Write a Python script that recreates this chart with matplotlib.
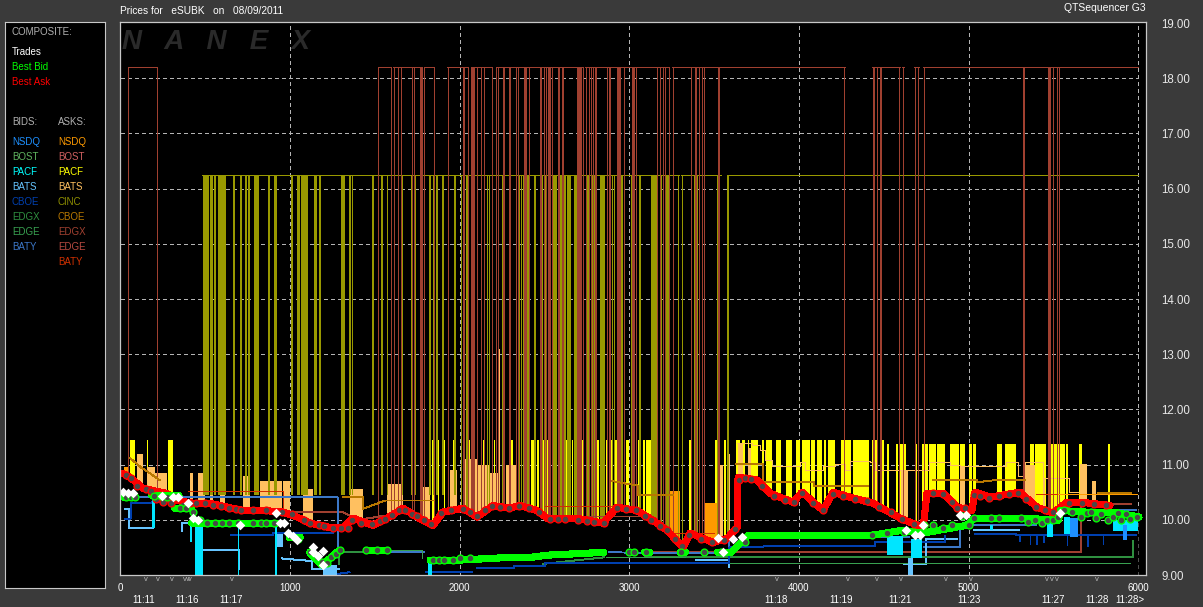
#!/usr/bin/env python3
# plot.py - quote sequence chart for eSUBK
import matplotlib
matplotlib.use('Agg')
import matplotlib.pyplot as plt
import numpy as np

plt.rcParams['font.family'] = ['Liberation Sans', 'DejaVu Sans']

# ---- data ----
ask_x = [15, 56, 133, 192, 274, 333, 427, 528, 628, 722, 840, 958, 1041, 1117, 1235, 1312, 1371, 1489, 1571, 1666,
         1748, 1842, 1901, 2019, 2102, 2196, 2296, 2355, 2456, 2514, 2691, 2845, 2927, 3045, 3140, 3222, 3316, 3358,
         3493, 3576, 3635, 3641, 3753, 3830, 3965, 4018, 4142, 4201, 4301, 4437, 4596, 4732, 4755, 4850, 4932, 5020,
         5038, 5127, 5303, 5403, 5498, 5580, 5657, 5834]
ask_y = [10.84, 10.77, 10.57, 10.53, 10.48, 10.35, 10.30, 10.30, 10.23, 10.17, 10.17, 10.14, 10.05, 9.94, 9.86, 9.86,
         10.03, 9.90, 10.03, 10.21, 10.05, 9.90, 10.14, 10.21, 10.05, 10.26, 10.21, 10.26, 10.17, 10.03, 10.03, 9.94,
         10.23, 10.17, 9.99, 9.81, 9.50, 9.76, 9.59, 9.66, 9.86, 10.77, 10.72, 10.48, 10.32, 10.50, 10.17, 10.50,
         10.41, 10.30, 10.03, 9.86, 10.48, 10.48, 10.23, 10.17, 10.50, 10.41, 10.50, 10.23, 10.12, 10.32, 10.32, 10.26]

bid_x = [15, 90, np.nan, 185, 345, np.nan, 320, 420, np.nan, 420, 920, np.nan, 995, 1060, np.nan, 1115, 1190, 1290,
         np.nan, 1450, 1570, np.nan, 1825, 2000, 2300, 2420, 2520, 2850, np.nan, 3000, 3030, np.nan, 3090, 3120, np.nan,
         3300, 3330, np.nan, 3520, 3600, 3700, 4430, 4610, 4730, 4990, 5035, 5330, 5530, 5540, 5690, 5850, 6005]
bid_y = [10.41, 10.41, np.nan, 10.44, 10.44, np.nan, 10.21, 10.21, np.nan, 9.94, 9.94, np.nan, 9.68, 9.68, np.nan,
         9.41, 9.18, 9.45, np.nan, 9.45, 9.45, np.nan, 9.27, 9.27, 9.32, 9.32, 9.36, 9.41, np.nan, 9.41, 9.41, np.nan,
         9.41, 9.41, np.nan, 9.41, 9.41, np.nan, 9.41, 9.41, 9.72, 9.72, 9.81, 9.76, 9.90, 10.03, 10.03, 9.99, 10.17,
         10.14, 10.14, 10.05]

ask_dot_x = [30, 60, 100, 150, 180, 210, 250, 300, 370, 410, 445, 500, 545, 590, 640, 680, 710, 780, 860, 950, 1010,
             1080, 1120, 1170, 1200, 1250, 1300, 1340, 1365, 1420, 1480, 1530, 1560, 1600, 1640, 1680, 1720, 1750, 1790,
             1830, 1890, 1950, 2020, 2060, 2100, 2150, 2190, 2240, 2290, 2350, 2410, 2470, 2530, 2580, 2620, 2700, 2750,
             2790, 2850, 2925, 2980, 3040, 3090, 3130, 3180, 3220, 3270, 3310, 3350, 3420, 3490, 3560, 3620, 3645, 3680,
             3720, 3780, 3850, 3920, 3970, 4020, 4080, 4140, 4200, 4260, 4330, 4400, 4470, 4540, 4610, 4680, 4740, 4790,
             4850, 4900, 4930, 4980, 5030, 5070, 5120, 5180, 5240, 5290, 5340, 5400, 5450, 5500, 5590, 5670, 5740, 5810]
ask_dot_y = [10.82, 10.76, 10.62, 10.55, 10.53, 10.38, 10.33, 10.31, 10.26, 10.30, 10.30, 10.30, 10.27, 10.25, 10.22,
             10.20, 10.18, 10.17, 10.17, 10.15, 10.10, 9.99, 9.94, 9.90, 9.88, 9.86, 9.86, 9.86, 10.00, 9.94, 9.92, 9.98,
             10.02, 10.08, 10.18, 10.18, 10.10, 10.06, 10.00, 9.92, 10.12, 10.18, 10.20, 10.14, 10.07, 10.18, 10.25,
             10.23, 10.21, 10.25, 10.22, 10.14, 10.02, 10.02, 10.02, 10.00, 9.98, 9.96, 9.94, 10.22, 10.20, 10.17, 10.07,
             9.99, 9.89, 9.81, 9.65, 9.52, 9.72, 9.65, 9.60, 9.64, 9.84, 10.72, 10.76, 10.74, 10.62, 10.44, 10.36, 10.32,
             10.48, 10.30, 10.18, 10.47, 10.44, 10.38, 10.34, 10.24, 10.14, 10.02, 9.92, 9.90, 10.48, 10.47, 10.32, 10.22,
             10.22, 10.45, 10.44, 10.40, 10.44, 10.47, 10.49, 10.38, 10.24, 10.18, 10.14, 10.30, 10.30, 10.28, 10.26]

bid_dot_x = [35, 60, 85, 195, 240, 275, 320, 350, 385, 430, 470, 510, 560, 600, 640, 690, 780, 830, 860, 905, 1000, 1045,
             1120, 1160, 1190, 1215, 1240, 1270, 1295, 1450, 1510, 1570, 1840, 1880, 1910, 1960, 2000, 2060, 3000, 3030,
             3100, 3305, 3440, 3540, 3680, 4430, 4520, 4620, 4735, 4790, 4850, 4900, 4960, 5000, 5030, 5130, 5180, 5310,
             5350, 5390, 5430, 5460, 5500, 5530, 5560, 5610, 5660, 5700, 5720, 5750, 5780, 5820, 5850, 5880, 5900, 5930,
             5950, 5990]
bid_dot_y = [10.41, 10.41, 10.41, 10.44, 10.44, 10.42, 10.44, 10.21, 10.21, 10.15, 9.99, 9.94, 9.94, 9.94, 9.94, 9.94,
             9.94, 9.94, 9.94, 9.94, 9.70, 9.65, 9.42, 9.32, 9.24, 9.22, 9.32, 9.38, 9.45, 9.45, 9.45, 9.45, 9.27, 9.27,
             9.27, 9.27, 9.30, 9.30, 9.41, 9.41, 9.41, 9.41, 9.41, 9.41, 9.60, 9.72, 9.76, 9.78, 9.90, 9.90, 9.86, 9.90,
             10.06, 9.90, 10.03, 10.03, 10.03, 10.03, 9.96, 9.99, 9.95, 9.99, 9.99, 10.05, 10.17, 10.14, 10.05, 10.12,
             10.14, 10.03, 10.10, 10.00, 10.05, 10.12, 10.00, 10.10, 10.02, 10.05]

trade_x = [15, 44, 74, 245, 310, 339, 398, 427, 457, 705, 917, 940, 964, 988, 1017, 1041, 1135, 1135, 1165, 1194, 1194,
           3523, 3552, 3611, 3664, 4631, 4684, 4714, 4732, 4950, 4985, 5539]
trade_y = [10.50, 10.48, 10.48, 10.44, 10.41, 10.41, 10.30, 10.03, 9.99, 9.91, 10.12, 9.94, 9.94, 9.76, 9.71, 9.63,
           9.50, 9.41, 9.35, 9.44, 9.18, 9.67, 9.42, 9.65, 9.69, 9.81, 9.72, 9.72, 9.90, 10.08, 10.08, 10.12]

# CINC ask spikes up to 16.25, early ones stop above the ask
cinc_early_start = [486, 528, 551, 575, 663, 705, 734, 752, 787, 870, 905, 1005, 1041, 1064, 1141, 1170, 1300, 1347,
                    1365, 1483, 1536, 1571, 1654, 1713, 1736, 1818, 1842, 1860, 1896, 1966]
cinc_early_end = [522, 545, 563, 622, 675, 716, 746, 764, 817, 881, 923, 1017, 1058, 1105, 1159, 1182, 1324, 1359,
                  1371, 1495, 1548, 1577, 1666, 1718, 1742, 1830, 1848, 1872, 1907, 1978]
cinc_start = [2007, 2037, 2066, 2160, 2172, 2249, 2349, 2361, 2373, 2438, 2485, 2503, 2550, 2591, 2615, 2632, 2674,
              2745, 2774, 2791, 2827, 2868, 2898, 2910, 2951, 3010, 3057, 3128, 3181, 3210, 3287, 3310, 3381, 3517, 3576]
cinc_end = [2013, 2049, 2072, 2166, 2178, 2255, 2355, 2367, 2408, 2449, 2491, 2508, 2573, 2603, 2626, 2656, 2691,
            2762, 2786, 2803, 2857, 2874, 2904, 2915, 2963, 3028, 3069, 3163, 3193, 3234, 3293, 3316, 3405, 3534, 3588]
cinc_line_start = [483, 3305, 3576]
cinc_line_end = [3293, 3540, 6000]

# EDGX ask spikes up to 18.20
edgx_thin = [44, 215, 1518, 1595, 1613, 1636, 1654, 1719, 1730, 1789, 1848, 1931, 2049, 2102, 2125, 2143, 2190, 2214,
             2332, 2344, 2408, 2497, 2509, 2544, 2727, 2745, 2762, 2774, 2786, 2868, 2969, 3039, 3163, 3181, 3198, 3234,
             3257, 3410, 3428, 3440, 4265, 4460, 4590, 4613, 4684, 4702, 4737, 5321, 5327, 5498, 5521, 5533]
edgx_wide_start = [1766, 2019, 2067, 2226, 2255, 2291, 2379, 2473, 2521, 2580, 2603, 2691, 2797, 2880, 2927, 3016, 3210,
                   3363, 3387, 3523, 4436, 4478, 5468]
edgx_wide_end = [1784, 2031, 2090, 2232, 2267, 2302, 2397, 2485, 2538, 2591, 2615, 2721, 2809, 2892, 2951, 3033, 3216,
                 3369, 3399, 3534, 4448, 4489, 5486]
edgx_top_start = [44, 1518, 1607, 1789, 1925, 2067, 2214, 2739, 3252, 3405, 4431, 4608, 4678, 4732]
edgx_top_end = [215, 1595, 1778, 1848, 2049, 2190, 2727, 3234, 3399, 4271, 4596, 4620, 4708, 6000]

# PACF ask spikes
pacf_start = [56, 156, 280, 1837, 1872, 1907, 1960, 2055, 2137, 2202, 2249, 2302, 2361, 2391, 2420, 2456, 2485, 2509,
              2532, 2556, 2591, 2626, 2662, 2715, 2791, 2862, 2886, 2910, 2980, 3010, 3051, 3081, 3098, 3181, 3210,
              3352, 3505, 3558, 3629, 3664, 3700, 3718, 3782, 3806, 3865, 3924, 3983, 4018, 4071, 4106, 4148, 4172,
              4248, 4319, 4431, 4490]
pacf_end = [86, 163, 310, 1848, 1878, 1913, 1972, 2061, 2143, 2208, 2255, 2314, 2367, 2403, 2444, 2467, 2497, 2521,
            2538, 2562, 2597, 2656, 2668, 2733, 2821, 2868, 2898, 2927, 2998, 3022, 3057, 3092, 3128, 3187, 3234,
            3363, 3517, 3570, 3653, 3682, 3706, 3759, 3794, 3842, 3895, 3959, 4007, 4065, 4095, 4136, 4160, 4213,
            4307, 4413, 4460, 4501]
pacf_low_start = [4519, 4572, 4596, 4684, 4726, 4767, 4814, 4890, 4949, 5002, 5026, 5168, 5215, 5362, 5392, 5468, 5575,
                  5652, 5822]
pacf_low_end = [4531, 4584, 4631, 4696, 4761, 4808, 4861, 4943, 4979, 5020, 5044, 5197, 5280, 5386, 5457, 5569, 5587,
                5669, 5834]

# BATS ask blocks
bats_start = [98, 156, 203, 410, 457, 528, 587, 722, 822, 958, 1076, 1353, 1571, 1766, 1943, 2019, 2100, 2180, 2226,
              2270, 3523, 3576, 3640, 3700, 4600, 4950, 5321, 5440, 5657, 5730]
bats_end = [133, 203, 274, 428, 498, 545, 616, 763, 952, 999, 1135, 1430, 1666, 1825, 1984, 2100, 2180, 2226, 2238,
            2340, 3552, 3594, 3670, 3720, 4640, 4980, 5392, 5450, 5698, 5750]
bats_top = [11.20, 10.95, 10.85, 10.85, 10.85, 10.85, 10.80, 10.80, 10.70, 10.70, 10.55, 10.55, 10.65, 10.60, 10.90,
            11.10, 11.00, 10.85, 13.10, 11.00, 11.00, 11.20, 11.40, 11.30, 10.90, 10.95, 11.00, 10.75, 11.02, 10.70]
bats_line_x = [3635, 3682, 3724, 3771, 3800, 3841, 3947, 4007, 4036, 4095, 4142, 4213, 4272, 4301, 4419, 4448, 4767,
               4890, 4950, 5220, 5290, 5290, 5330, 5380, 5440, 5590, 5660]
bats_line_y = [11.40, 11.40, 11.36, 11.27, 11.09, 10.98, 10.97, 11.04, 10.91, 10.91, 10.97, 11.02, 10.91, 11.06, 11.04,
               10.91, 11.04, 11.00, 10.98, 11.04, 11.04, 10.80, 11.04, 11.04, 10.75, 10.50, 10.40]

# NSDQ ask blocks
nsdq_a_start = [20, 3240, 3446]
nsdq_a_end = [50, 3300, 3517]
nsdq_a_top = [10.95, 10.53, 10.30]

# step lines
cboe_a_x = [56, 120, 170, 230, np.nan, 1310, 1430, 1430, 1560, 1560, 1850, np.nan, 2900, 3050, 3050, 3260, np.nan,
            3630, 3790, 3790, 3930, 3970, 4090, 4090, 4410, np.nan, 4790, 4900, 4900, 5050, 5050, 5160, 5330, np.nan,
            5760, 5960]
cboe_a_y = [11.12, 10.95, 10.85, 10.72, np.nan, 10.41, 10.41, 10.20, 10.35, 10.35, 10.35, np.nan, 10.70, 10.62, 10.45,
            10.45, np.nan, 11.02, 11.02, 10.68, 10.68, 10.68, 10.68, 10.61, 10.61, np.nan, 10.72, 10.72, 10.72, 10.72,
            10.68, 10.72, 10.72, np.nan, 10.48, 10.48]
baty_a_x = [400, 960, 960, np.nan, 2500, 2950, np.nan, 3220, 3500, np.nan, 5400, 5760, 5760, 5990]
baty_a_y = [10.52, 10.52, 10.14, np.nan, 10.25, 10.25, np.nan, 9.77, 9.77, np.nan, 10.47, 10.47, 10.47, 10.47]
edgx_a_x = [1000, 1310, 1310, 1400, 1400, 1700, np.nan, 2500, 3090, np.nan, 3090, 5660, 5660, 5960]
edgx_a_y = [10.14, 10.14, 10.14, 10.00, 10.00, 10.14, np.nan, 10.06, 10.06, np.nan, 9.41, 9.41, 10.28, 10.28]
nsdq_a_line_x = [5530, 5990]
nsdq_a_line_y = [10.47, 10.47]
baty_b_x = [15, 1280, 1280, 1290, 1790, np.nan, 2880, 3590, 3590, np.nan, 4470, 4650, np.nan, 4740, 4950, 4950, 5020,
            5400, np.nan, 5570, 5990]
baty_b_y = [10.41, 10.41, 9.41, 9.41, 9.41, np.nan, 9.41, 9.39, 9.75, np.nan, 9.68, 9.68, np.nan, 9.50, 9.50, 9.90,
            9.90, 9.90, np.nan, 10.17, 10.17]
cboe_b_x = [25, 60, 60, 330, np.nan, 650, 900, 900, 1250, np.nan, 1280, 1350, np.nan, 1800, 2040, 2040, 2070, np.nan,
            2100, 2320, 2320, 2500, 2500, 3590, 3590, 3790, 3790, 4450, 4450, 4860, 4860, np.nan, 5040, 5280, 5280, 5990]
cboe_b_y = [10.02, 10.02, 10.30, 10.33, np.nan, 9.72, 9.72, 9.76, 9.76, np.nan, 9.02, 9.05, np.nan, 9.05, 9.05, 9.05,
            9.05, np.nan, 9.12, 9.12, 9.16, 9.16, 9.21, 9.21, 9.50, 9.50, 9.52, 9.52, 9.60, 9.60, 9.70, np.nan, 9.74,
            9.74, 9.72, 9.72]
bats_b_x = [25, 50, 50, 190, np.nan, 360, 360, 480, np.nan, 480, 700, 700, np.nan, 950, 1100, 1130, 1130, 1290, np.nan,
            3390, 3590, 3590, np.nan, 4620, 4750, 4750, 4930, np.nan, 5030, 5300]
bats_b_y = [10.20, 10.20, 9.85, 9.85, np.nan, 9.80, 9.95, 9.95, np.nan, 9.45, 9.45, 9.10, np.nan, 9.30, 9.26, 9.26,
            9.10, 9.10, np.nan, 9.28, 9.28, 9.15, np.nan, 9.20, 9.20, 9.65, 9.65, np.nan, 9.82, 9.82]
edgx_b_x = [1290, 1290, 1500, np.nan, 2490, 2850, np.nan, 3090, 5970, 5970]
edgx_b_y = [9.20, 9.42, 9.42, np.nan, 9.20, 9.32, np.nan, 9.32, 9.32, 9.61]
edge_b_x = [1450, 1780, 1780, np.nan, 2860, 3330, np.nan, 3440, 5950]
edge_b_y = [9.45, 9.45, 9.30, np.nan, 9.32, 9.32, np.nan, 9.21, 9.21]

# bid blocks: start, end, low, high
pacf_b_start = [186, 410, 440, 693, 911, 1813, 4519, 4660, 5127, 5463, 5560, 5850]
pacf_b_end = [204, 421, 486, 699, 923, 1837, 4613, 4726, 5145, 5498, 5600, 6000]
pacf_b_low = [9.85, 9.60, 9.00, 9.00, 9.00, 9.00, 9.36, 9.30, 9.81, 9.68, 9.75, 9.80]
pacf_b_high = [10.40, 9.95, 9.95, 9.95, 9.95, 9.25, 9.70, 9.65, 9.90, 9.94, 10.05, 10.00]
bats_c_start = [923, 1194, 4643]
bats_c_end = [958, 1276, 4672]
bats_c_low = [9.50, 9.00, 9.00]
bats_c_high = [9.75, 9.18, 9.30]
nsdq_b_start = [5600, 5912]
nsdq_b_end = [5645, 5936]
nsdq_b_low = [9.68, 9.63]
nsdq_b_high = [10.03, 9.90]
cboe_notch_x = [5362, 5400, 5440, 5580, 5700, 5790, 5300]
cboe_notch_low = [9.55, 9.55, 9.58, 9.52, 9.50, 9.55, 9.60]
cboe_notch_high = [9.75, 9.75, 9.75, 9.75, 9.75, 9.75, 9.75]

x_ticks = [0, 1000, 2000, 3000, 4000, 5000, 6000]
y_ticks = list(range(9, 20))
v_marks = [150, 221, 304, 380, 398, 410, 657, 3870, 4290, 4460, 4602, 4867, 5014, 5463, 5492, 5521, 5757]
time_x = [139, 392, 651, 3864, 4247, 4596, 5002, 5498, 5757, 5952]
time_lab = ['11:11', '11:16', '11:17', '11:18', '11:19', '11:21', '11:23', '11:27', '11:28', '11:28>']

comp_names = ['Trades', 'Best Bid', 'Best Ask']
comp_cols = ['#ffffff', '#00ff00', '#ff0000']
bid_names = ['NSDQ', 'BOST', 'PACF', 'BATS', 'CBOE', 'EDGX', 'EDGE', 'BATY']
bid_cols = ['#1e90ff', '#5fb45f', '#00ffff', '#66c4ff', '#0040b0', '#2f9040', '#38a050', '#3c78c8']
ask_names = ['NSDQ', 'BOST', 'PACF', 'BATS', 'CINC', 'CBOE', 'EDGX', 'EDGE', 'BATY']
ask_cols = ['#ff9a00', '#d06060', '#ffff00', '#ffc060', '#909000', '#b87800', '#a04030', '#b84a40', '#d03000']

BG = '#3a3a3a'
W, H = 1203.0, 607.0


def blocks(ax, start, end, low, high, color, z):
    start, end = np.array(start, float), np.array(end, float)
    ax.bar(start, np.array(high) - np.array(low), end - start, bottom=low, align='edge',
           color=color, linewidth=0, antialiased=False, zorder=z)


def steps(ax, x, y, color, z, lw=0.7):
    ax.plot(x, y, color=color, lw=lw, antialiased=False, solid_joinstyle='miter', zorder=z)


fig = plt.figure(figsize=(W / 100, H / 100), dpi=100, facecolor=BG)

# legend panel on the left
lax = fig.add_axes([5 / W, 1 - 588 / H, 100 / W, 566 / H], facecolor='black')
lax.set_xticks([])
lax.set_yticks([])
for s in lax.spines.values():
    s.set_color('#c8c8c8')
    s.set_linewidth(0.8)


def ltext(px, py, s, col):
    fig.text(px / W, 1 - py / H, s, color=col, fontsize=7, va='center', ha='left')


ltext(12, 32, 'COMPOSITE:', '#b0b0b0')
for i, n in enumerate(comp_names):
    ltext(12, 52 + 15 * i, n, comp_cols[i])
ltext(12, 122, 'BIDS:', '#b0b0b0')
ltext(58, 122, 'ASKS:', '#b0b0b0')
for i, n in enumerate(bid_names):
    ltext(12, 142 + 15 * i, n, bid_cols[i])
for i, n in enumerate(ask_names):
    ltext(58, 142 + 15 * i, n, ask_cols[i])

fig.text(120 / W, 1 - 11 / H, 'Prices for   eSUBK   on   08/09/2011', color='white', fontsize=7.3, va='center')
fig.text(1146 / W, 1 - 8 / H, 'QTSequencer G3', color='white', fontsize=7.5, va='center', ha='right')

# main axes
ax = fig.add_axes([120 / W, 1 - 575 / H, 1026 / W, 553 / H], facecolor='black')
ax.set_xlim(-3, 6046)
ax.set_ylim(9.0, 19.02)
for s in ax.spines.values():
    s.set_color('#c8c8c8')
    s.set_linewidth(0.9)
    s.set_zorder(20)

ax.yaxis.tick_right()
ax.set_yticks(y_ticks)
ax.set_yticklabels(['%.2f' % v for v in y_ticks], color='#e8e8e8', fontsize=8.3)
ax.set_xticks(x_ticks)
ax.set_xticklabels([str(v) for v in x_ticks], color='white', fontsize=7)
ax.tick_params(axis='x', length=0, pad=6)
ax.tick_params(axis='y', length=0, pad=11)

ax.text(8, 18.42, 'N   A   N   E   X', color='#2a2a2a', fontsize=20, style='italic', weight='bold', va='bottom', zorder=1)

# grid below the spikes
grid_dash = (0, (4, 4))
ax.hlines(y_ticks[1:-1], 0, 6000, colors='#b4b4b4', lw=0.6, linestyles=[grid_dash], antialiased=False, zorder=2)
ax.vlines(x_ticks[1:], 9, 19.02, colors='#b4b4b4', lw=0.6, linestyles=[grid_dash], antialiased=False, zorder=2)

# ask spikes
blocks(ax, pacf_start, pacf_end, [9.4] * len(pacf_start), [11.45] * len(pacf_start), '#ffff00', 3)
blocks(ax, pacf_low_start, pacf_low_end, [9.4] * len(pacf_low_start), [11.38] * len(pacf_low_start), '#ffff00', 3)
blocks(ax, nsdq_a_start, nsdq_a_end, [9.4] * len(nsdq_a_start), nsdq_a_top, '#ff9a00', 3.1)
blocks(ax, bats_start, bats_end, [9.4] * len(bats_start), bats_top, '#ffc060', 3.2)
ax.plot(bats_line_x, bats_line_y, color='#ffc060', lw=0.6, antialiased=False, drawstyle='steps-post', zorder=3.2)
blocks(ax, cinc_early_start, cinc_early_end, [10.45] * len(cinc_early_start), [16.25] * len(cinc_early_start),
       '#999900', 3.3)
blocks(ax, cinc_start, cinc_end, [9.4] * len(cinc_start), [16.25] * len(cinc_start), '#999900', 3.3)
ax.hlines([16.25] * len(cinc_line_start), cinc_line_start, cinc_line_end, colors='#999900', lw=0.6,
          antialiased=False, zorder=3.3)
blocks(ax, edgx_thin, np.array(edgx_thin) + 7, [9.4] * len(edgx_thin), [18.2] * len(edgx_thin), '#a04030', 3.4)
blocks(ax, edgx_wide_start, edgx_wide_end, [9.4] * len(edgx_wide_start), [18.2] * len(edgx_wide_start), '#a04030', 3.4)
ax.hlines([18.2] * len(edgx_top_start), edgx_top_start, edgx_top_end, colors='#a04030', lw=0.6,
          antialiased=False, zorder=3.4)

# black area below the best ask
mask = ax.fill_between(ask_x + [6000], [9.0] * (len(ask_x) + 1), ask_y + [10.2], color='black', lw=0, zorder=4)
clip = mask.get_paths()[0]
g1 = ax.hlines(y_ticks[1:-1], 0, 6000, colors='#b4b4b4', lw=0.6, linestyles=[grid_dash], antialiased=False, zorder=4.1)
g2 = ax.vlines(x_ticks[1:], 9, 19.02, colors='#b4b4b4', lw=0.6, linestyles=[grid_dash], antialiased=False, zorder=4.1)
g1.set_clip_path(clip, transform=ax.transData)
g2.set_clip_path(clip, transform=ax.transData)

# stepped quotes
steps(ax, cboe_a_x, cboe_a_y, '#b87800', 5)
steps(ax, baty_a_x, baty_a_y, '#d03000', 5)
steps(ax, edgx_a_x, edgx_a_y, '#a04030', 5)
steps(ax, nsdq_a_line_x, nsdq_a_line_y, '#ff9a00', 5)
steps(ax, baty_b_x, baty_b_y, '#3c78c8', 5)
steps(ax, cboe_b_x, cboe_b_y, '#0040b0', 5.1)
steps(ax, bats_b_x, bats_b_y, '#66c4ff', 5)
steps(ax, edgx_b_x, edgx_b_y, '#2f9040', 5)
steps(ax, edge_b_x, edge_b_y, '#38a050', 5)
blocks(ax, pacf_b_start, pacf_b_end, pacf_b_low, pacf_b_high, '#00e5ff', 5.2)
blocks(ax, bats_c_start, bats_c_end, bats_c_low, bats_c_high, '#66c4ff', 5.3)
blocks(ax, nsdq_b_start, nsdq_b_end, nsdq_b_low, nsdq_b_high, '#1e90ff', 5.4)
blocks(ax, cboe_notch_x, np.array(cboe_notch_x) + 8, cboe_notch_low, cboe_notch_high, '#0040b0', 5.5)

# composite bid, ask and trades
ax.plot(ask_x, ask_y, color='#ff0000', lw=4.4, antialiased=False, solid_capstyle='round', zorder=6)
ax.scatter(ask_dot_x, ask_dot_y, s=24, facecolor='#484848', edgecolor='#ff0000', lw=1.0, zorder=7)
ax.plot(bid_x, bid_y, color='#00ff00', lw=4.4, antialiased=False, solid_capstyle='round', zorder=6)
ax.scatter(bid_dot_x, bid_dot_y, s=24, facecolor='#484848', edgecolor='#00ff00', lw=1.0, zorder=7)
ax.scatter(trade_x, trade_y, s=24, marker='D', color='white', lw=0, zorder=8)

# trade flags and clock times below the axis
tr = ax.get_xaxis_transform()
for xv in v_marks:
    ax.text(xv, -0.009, 'v', color='#b8b8b8', fontsize=5.5, ha='center', va='center', transform=tr, clip_on=False)
for xv, lab in zip(time_x, time_lab):
    ax.text(xv, -0.045, lab, color='white', fontsize=7, ha='center', va='center', transform=tr, clip_on=False)

fig.savefig('out.png', dpi=100, facecolor=BG)
